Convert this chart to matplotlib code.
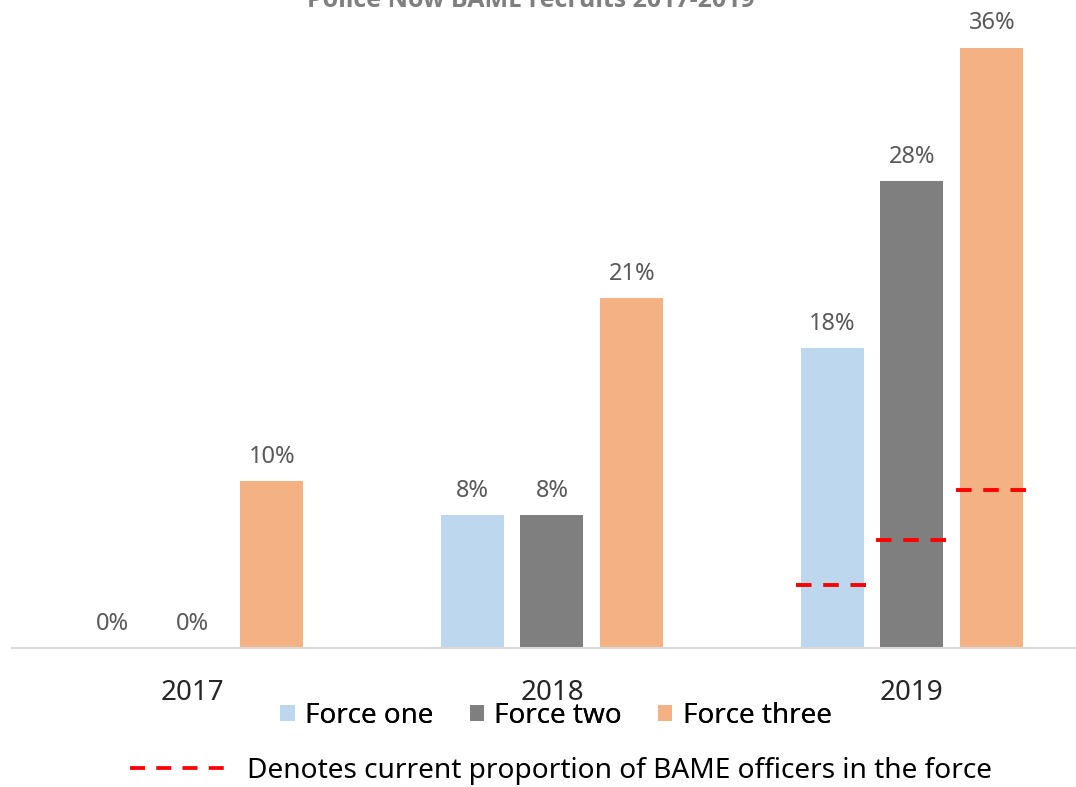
import matplotlib
matplotlib.use('Agg')
import matplotlib.pyplot as plt
from matplotlib.patches import Patch
from matplotlib.lines import Line2D
import numpy as np

plt.rcParams['font.family'] = ['Noto Sans', 'DejaVu Sans']

years = ['2017', '2018', '2019']
forces = ['Force one', 'Force two', 'Force three']
force_one = [0, 8, 18]
force_two = [0, 8, 28]
force_three = [10, 21, 36]
# current proportion of BAME officers, 2019 only
current_share = [3.8, 6.5, 9.5]

colors = ['#BDD7EE', '#7F7F7F', '#F4B183']

fig = plt.figure(figsize=(10.76, 7.87), dpi=100)
# axes runs a little past the right edge, as in the original export
ax = fig.add_axes([12 / 1076, 139 / 787, 1080 / 1076, 648 / 787])

x = np.arange(len(years))
width = 0.175
offset = 0.222

series = [force_one, force_two, force_three]
for i, (vals, col) in enumerate(zip(series, colors)):
    pos = x + (i - 1) * offset
    ax.bar(pos, vals, width=width, color=col, zorder=2)
    for px, v in zip(pos, vals):
        ax.annotate('%d%%' % v, (px, v), xytext=(0, 13), textcoords='offset points',
                    ha='center', va='baseline', fontsize=17, color='#595959')

# dashed markers on the 2019 bars
for i, share in enumerate(current_share):
    cx = x[2] + (i - 1) * offset
    ax.hlines(share, cx - 0.1, cx + 0.1, colors='#FF0000', linewidth=2.8,
              linestyles=(0, (4, 3)), zorder=3)

ax.set_xlim(-0.5, 2.5)
ax.set_ylim(0, 38.85)
ax.set_xticks(x)
ax.set_xticklabels(years, fontsize=20, color='#262626')
ax.tick_params(axis='x', length=0, pad=22)
ax.set_yticks([])
for s in ['top', 'left', 'right']:
    ax.spines[s].set_visible(False)
ax.spines['bottom'].set_color('#D9D9D9')
ax.spines['bottom'].set_linewidth(1.5)

fig.text(531 / 1076, 1 - 7 / 787, 'Police Now BAME recruits 2017-2019', ha='center',
         va='baseline', fontsize=18, fontweight='bold', color='#7F7F7F',
         family=['Open Sans', 'DejaVu Sans'])

handles = [Patch(facecolor=c, edgecolor='none', label=f) for c, f in zip(colors, forces)]
leg1 = fig.legend(handles=handles, loc='center', bbox_to_anchor=(556 / 1076, 1 - 716 / 787),
                  ncol=3, frameon=False, fontsize=20, handlelength=0.52, handleheight=0.52,
                  handletextpad=0.37, columnspacing=1.3, borderpad=0, borderaxespad=0)
fig.add_artist(leg1)

dash = Line2D([], [], color='#FF0000', linewidth=2.7, linestyle=(0, (4, 3)),
              label='Denotes current proportion of BAME officers in the force')
fig.legend(handles=[dash], loc='center', bbox_to_anchor=(561 / 1076, 1 - 771 / 787),
           frameon=False, fontsize=20.2, handlelength=3.4, handletextpad=0.75,
           borderpad=0, borderaxespad=0)

fig.savefig('out.png', dpi=100)
